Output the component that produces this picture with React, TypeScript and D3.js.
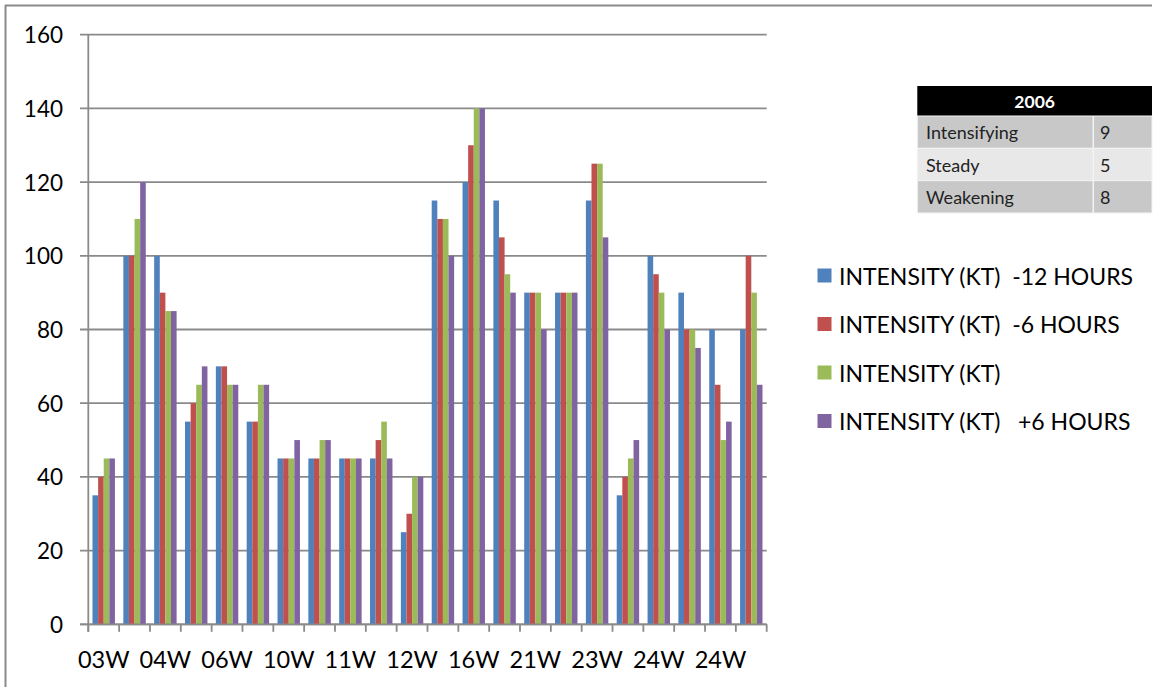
import React from "react";
import * as d3 from "d3";

const categories = ["03W","04W","04W","06W","06W","08W","10W","10W","11W","12W","12W","13W","16W","16W","21W","22W","23W","23W","24W","24W","24W","24W"];
const tickLabels = ["03W","04W","06W","10W","11W","12W","16W","21W","23W","24W","24W"];
const seriesNames = [
  "INTENSITY (KT)  -12 HOURS",
  "INTENSITY (KT)  -6 HOURS",
  "INTENSITY (KT)",
  "INTENSITY (KT)   +6 HOURS",
];
const minus12 = [35,100,100,55,70,55,45,45,45,45,25,115,120,115,90,90,115,35,100,90,80,80];
const minus6 = [40,100,90,60,70,55,45,45,45,50,30,110,130,105,90,90,125,40,95,80,65,100];
const current = [45,110,85,65,65,65,45,50,45,55,40,110,140,95,90,90,125,45,90,80,50,90];
const plus6 = [45,120,85,70,65,65,50,50,45,45,40,100,140,90,80,90,105,50,80,75,55,65];
const yTicks = [0,20,40,60,80,100,120,140,160];
const tableTitle = "2006";
const tableLabels = ["Intensifying","Steady","Weakening"];
const tableValues = [9,5,8];

const colors = ["#4F81BD","#C0504D","#9BBB59","#8064A2"];
const FONT = "Lato, 'Noto Sans', sans-serif";

export default function App() {
  const W = 1153, H = 687;
  const x0 = 88.3, x1 = 766.7, yTop = 34.7, yBot = 624.3;
  const series = [minus12, minus6, current, plus6];
  const x = d3.scaleBand<number>().domain(d3.range(categories.length)).range([x0, x1]).paddingInner(0).paddingOuter(0);
  const step = x.step();
  const barW = step / (4 + 1.5);
  const inner = d3.scaleBand<number>().domain([0,1,2,3]).range([(step - 4 * barW) / 2, (step + 4 * barW) / 2]);
  const y = d3.scaleLinear().domain([0, 160]).range([yBot, yTop]);
  const grid = "#8a8a8a";

  const legendY = d3.scaleLinear().domain([0, 3]).range([275.5, 421]);
  const rowY = d3.scaleBand<number>().domain([0,1,2]).range([116, 213]);

  return (
    <svg width={W} height={H} style={{ position: "absolute", left: 0, top: 0, background: "#fff" }} fontFamily={FONT}>
      <rect x={0} y={0} width={W} height={H} fill="#fff" />
      <line x1={5} x2={1152} y1={5.5} y2={5.5} stroke={grid} strokeWidth={2} />
      <line x1={5.5} x2={5.5} y1={5} y2={H} stroke={grid} strokeWidth={2} />

      {yTicks.map((t) => (
        <line key={"g" + t} x1={80} x2={x1} y1={y(t)} y2={y(t)} stroke={grid} strokeWidth={1.8} />
      ))}
      {yTicks.map((t) => (
        <text key={"yl" + t} x={63} y={y(t)} textAnchor="end" dominantBaseline="central" fontSize={22.5} fill="#000">{t}</text>
      ))}

      {categories.map((c, i) => (
        <g key={"grp" + i} transform={`translate(${x(i)},0)`}>
          {series.map((s, j) => (
            <rect key={j} x={inner(j)} width={barW} y={y(s[i])} height={yBot - y(s[i])} fill={colors[j]} />
          ))}
        </g>
      ))}

      <line x1={x0} x2={x0} y1={yTop} y2={yBot + 7.5} stroke={grid} strokeWidth={1.8} />
      <line x1={80} x2={x1} y1={yBot} y2={yBot} stroke={grid} strokeWidth={1.8} />
      {d3.range(categories.length + 1).map((i) => {
        const xx = x0 + i * step;
        return <line key={"t" + i} x1={xx} x2={xx} y1={yBot} y2={yBot + 7.5} stroke={grid} strokeWidth={1.8} />;
      })}
      {tickLabels.map((lab, k) => (
        <text key={"xl" + k} x={(x(k * 2) as number) + step / 2} y={659} textAnchor="middle" dominantBaseline="central" fontSize={23.5} fill="#000">{lab}</text>
      ))}

      {seriesNames.map((n, j) => (
        <g key={"lg" + j}>
          <rect x={817.5} y={legendY(j) - 7} width={14} height={14} fill={colors[j]} />
          <text x={839} y={legendY(j)} dominantBaseline="central" fontSize={23} fill="#000" style={{ whiteSpace: "pre" }}>{n}</text>
        </g>
      ))}

      <rect x={917.3} y={86} width={1152 - 917.3} height={30} fill="#000" />
      <text x={(917.3 + 1152) / 2} y={101} textAnchor="middle" dominantBaseline="central" fontSize={17.5} fontWeight="bold" fill="#fff">{tableTitle}</text>
      {tableLabels.map((lab, r) => (
        <g key={"row" + r}>
          <rect x={917.3} y={rowY(r)} width={1152 - 917.3} height={rowY.bandwidth()} fill={r % 2 === 0 ? "#c8c8c8" : "#e8e8e8"} stroke="#f4f4f4" strokeWidth={1} />
          <text x={926} y={(rowY(r) as number) + rowY.bandwidth() / 2} dominantBaseline="central" fontSize={18} fill="#222">{lab}</text>
          <text x={1100} y={(rowY(r) as number) + rowY.bandwidth() / 2} dominantBaseline="central" fontSize={18} fill="#222">{tableValues[r]}</text>
        </g>
      ))}
      <line x1={1093.3} x2={1093.3} y1={116} y2={213} stroke="#f4f4f4" strokeWidth={1.5} />
    </svg>
  );
}
